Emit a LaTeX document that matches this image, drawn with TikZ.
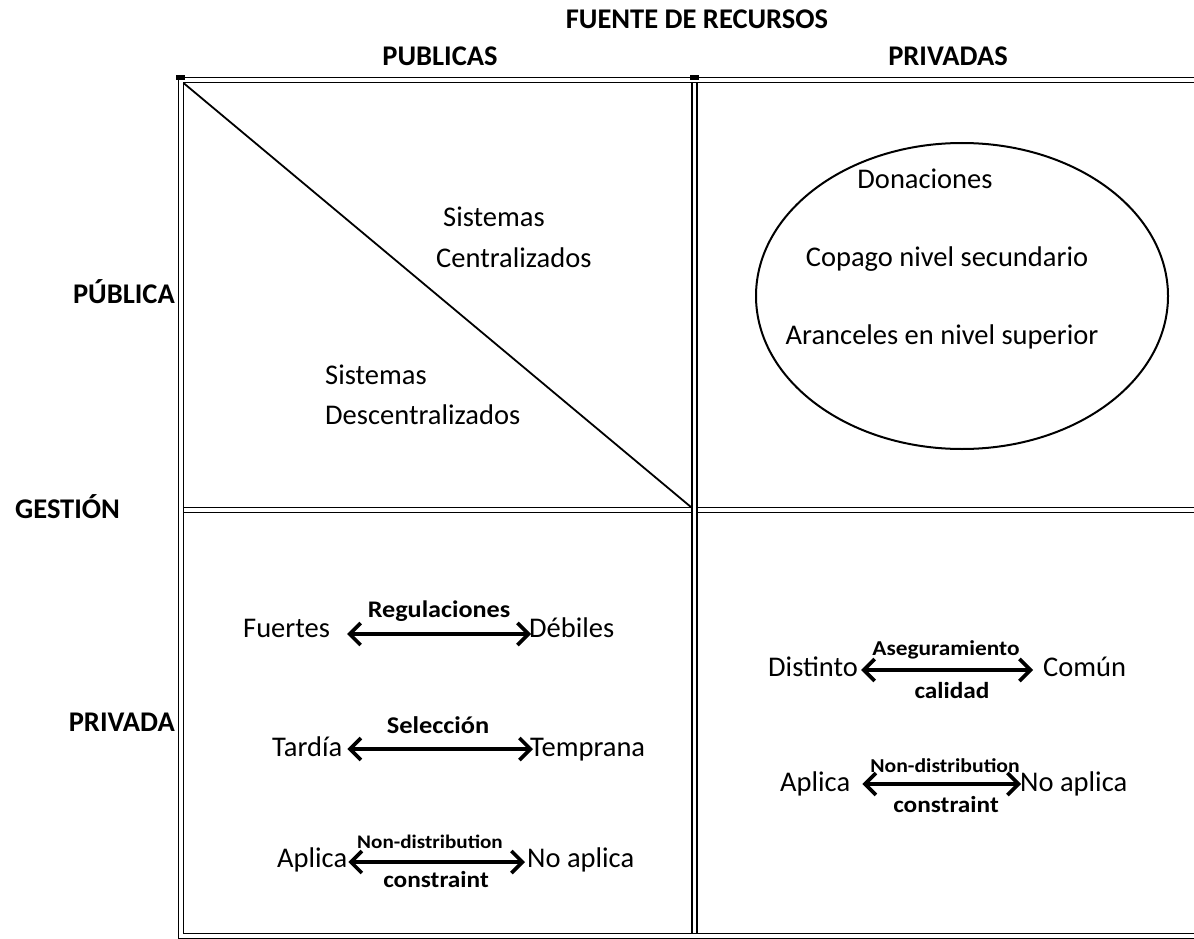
\documentclass[tikz,border=0pt]{standalone}
\usepackage{fontspec}
\setmainfont{Carlito}
\newfontfamily\lblfont[FakeStretch=1.1]{Carlito}
\usetikzlibrary{arrows.meta}
\tikzset{
  hd/.style={inner sep=0pt, anchor=base, font=\bfseries\fontsize{28.5}{34}\selectfont},
  txt/.style={inner sep=0pt, anchor=base west, font=\fontsize{28.5}{34}\selectfont},
  lbl/.style={inner sep=0pt, anchor=base, font=\lblfont\bfseries\fontsize{#1}{#1}\selectfont},
  dbl/.style={draw=black, line width=1.4pt, double=white, double distance=3.8pt, line join=miter},
  biarr/.style={line width=3.6pt, {Straight Barb[length=11pt,width=22pt]}-{Straight Barb[length=11pt,width=22pt]}}
}
\begin{document}
\begin{tikzpicture}[x=1pt,y=-1pt]
\useasboundingbox (0,0) rectangle (1194,939);
% grid
\draw[dbl] (181,510) -- (1194,510);
\draw[dbl] (694.5,80) -- (694.5,936);
\draw[dbl] (1194,80) -- (181,80) -- (181,936) -- (1194,936);
\fill (176,75) rectangle (185,80);
\fill (690,75) rectangle (699,80);
\draw[line width=1.8pt] (183.5,83) -- (691.5,507.5);
\draw[line width=2pt] (962,296) ellipse [x radius=206pt, y radius=153pt];
% headings
\node[hd] (fuente) at (697,29) {FUENTE DE RECURSOS};
\node[hd] (publicas) at (440,66) {PUBLICAS};
\node[hd] (privadas) at (948,66) {PRIVADAS};
\node[hd, anchor=base east] (publica) at (175,303) {PÚBLICA};
\node[hd, anchor=base west] (gestion) at (15,518) {GESTIÓN};
\node[hd, anchor=base east] (privada) at (175,731) {PRIVADA};
% top-left cell
\node[txt] (sis1) at (443,226) {Sistemas};
\node[txt] (cen) at (436,267) {Centralizados};
\node[txt] (sis2) at (325,384) {Sistemas};
\node[txt] (des) at (325,424) {Descentralizados};
% ellipse texts
\node[txt, anchor=base] (don) at (925,189) {Donaciones};
\node[txt, anchor=base] (cop) at (947,266) {Copago nivel secundario};
\node[txt, anchor=base] (ara) at (942,344) {Aranceles en nivel superior};
% bottom-left cell
\node[txt] (fuertes) at (243,637) {Fuertes};
\node[txt] (debiles) at (529,637) {Débiles};
\node[lbl=23.8] (regul) at (439,617) {Regulaciones};
\draw[biarr] ([xshift=17pt,yshift=3pt]fuertes.base east) -- ([xshift=2pt,yshift=3pt]debiles.base west);
\node[txt] (tardia) at (272,756) {Tardía};
\node[txt] (temprana) at (530,756) {Temprana};
\node[lbl=24] (selec) at (438,733) {Selección};
\draw[biarr] ([xshift=5pt,yshift=7pt]tardia.base east) -- ([xshift=3pt,yshift=7pt]temprana.base west);
\node[txt] (aplicaL) at (277,867) {Aplica};
\node[txt] (noaplicaL) at (527,867) {No aplica};
\node[lbl=19.2] (ndL) at (430,848) {Non-distribution};
\node[lbl=23] (conL) at (436,887) {constraint};
\draw[biarr] ([xshift=1pt,yshift=5pt]aplicaL.base east) -- ([xshift=-2pt,yshift=5pt]noaplicaL.base west);
% bottom-right cell
\node[txt] (distinto) at (768,676) {Distinto};
\node[txt] (comun) at (1043,676) {Común};
\node[lbl=21.2] (aseg) at (946,655) {Aseguramiento};
\node[lbl=23] (cal) at (952,698) {calidad};
\draw[biarr] ([xshift=3pt,yshift=6pt]distinto.base east) -- ([xshift=-10pt,yshift=6pt]comun.base west);
\node[txt] (aplicaR) at (780,791) {Aplica};
\node[txt] (noaplicaR) at (1020,791) {No aplica};
\node[lbl=19.7] (ndR) at (945,772) {Non-distribution};
\node[lbl=23] (conR) at (946,812) {constraint};
\draw[biarr] ([xshift=12pt,yshift=7pt]aplicaR.base east) -- ([xshift=1pt,yshift=7pt]noaplicaR.base west);
\end{tikzpicture}
\end{document}
